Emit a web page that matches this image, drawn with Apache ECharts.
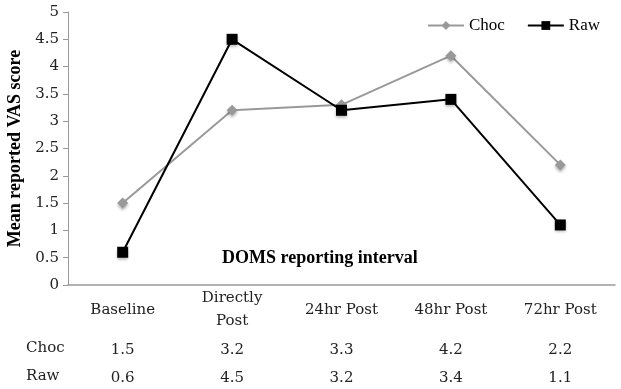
<!DOCTYPE html>
<html><head><meta charset="utf-8">
<script src="https://cdn.jsdelivr.net/npm/echarts@6/dist/echarts.min.js"></script>
<style>html,body{margin:0;padding:0;background:#fff}#c{width:621px;height:389px}</style>
</head><body><div id="c"></div>
<script>
const categories = ['Baseline', 'Directly\nPost', '24hr Post', '48hr Post', '72hr Post'];
const choc = [1.5, 3.2, 3.3, 4.2, 2.2];
const raw = [0.6, 4.5, 3.2, 3.4, 1.1];
const seriesNames = ['Choc', 'Raw'];
const yTicks = { min: 0, max: 5, interval: 0.5 };

const FONT = 'DejaVu Serif';
const TFONT = 'Liberation Serif';
const chart = echarts.init(document.getElementById('c'));
const grid = { left: 68, right: 6, top: 12, bottom: 104, containLabel: false, outerBoundsMode: 'none' };
chart.setOption({
  animation: false,
  grid: grid,
  legend: {
    right: 16, top: 12, itemWidth: 36, itemHeight: 11, itemGap: 22,
    textStyle: { fontFamily: TFONT, fontSize: 17, color: '#000' },
    data: seriesNames
  },
  xAxis: [
    {
      type: 'category', data: categories, boundaryGap: true,
      axisLine: { lineStyle: { color: '#999', width: 1.5 } },
      axisTick: { show: false },
      axisLabel: { fontFamily: FONT, fontSize: 15, color: '#222', margin: 25, lineHeight: 23, verticalAlign: 'middle', interval: 0 }
    },
    {
      type: 'category', data: choc.map(v => v.toFixed(1)), position: 'bottom', offset: 0,
      axisLine: { show: false }, axisTick: { show: false },
      axisLabel: { fontFamily: FONT, fontSize: 15, color: '#222', margin: 65, verticalAlign: 'middle', interval: 0 }
    },
    {
      type: 'category', data: raw.map(v => v.toFixed(1)), position: 'bottom', offset: 0,
      axisLine: { show: false }, axisTick: { show: false },
      axisLabel: { fontFamily: FONT, fontSize: 15, color: '#222', margin: 93, verticalAlign: 'middle', interval: 0 }
    }
  ],
  yAxis: {
    type: 'value', min: yTicks.min, max: yTicks.max, interval: yTicks.interval,
    name: 'Mean reported VAS score', nameLocation: 'middle', nameGap: 39, nameRotate: 90,
    nameTextStyle: { fontFamily: TFONT, fontSize: 18, fontWeight: 'bold', color: '#000' },
    axisLine: { show: true, lineStyle: { color: '#999', width: 1 } },
    axisTick: { show: true, length: 5, lineStyle: { color: '#999' } },
    splitLine: { show: false },
    axisLabel: { fontFamily: FONT, fontSize: 15, color: '#222', margin: 9 }
  },
  graphic: [
    { type: 'text', left: 222, top: 249, style: { text: 'DOMS reporting interval', font: 'bold 18px "Liberation Serif"', fill: '#000' } },
    { type: 'text', left: 26, top: 341, style: { text: seriesNames[0], font: '15px "DejaVu Serif"', fill: '#222' } },
    { type: 'text', left: 26, top: 369, style: { text: seriesNames[1], font: '15px "DejaVu Serif"', fill: '#222' } }
  ],
  series: [
    {
      name: seriesNames[0], type: 'line', data: choc, symbol: 'diamond', symbolSize: 11,
      lineStyle: { color: '#999', width: 2 }, itemStyle: { color: '#999', shadowBlur: 3, shadowColor: 'rgba(0,0,0,0.3)', shadowOffsetY: 2 }
    },
    {
      name: seriesNames[1], type: 'line', data: raw, symbol: 'rect', symbolSize: 11,
      lineStyle: { color: '#000', width: 2 }, itemStyle: { color: '#000', shadowBlur: 3, shadowColor: 'rgba(0,0,0,0.3)', shadowOffsetY: 2 }
    }
  ]
});
</script></body></html>
